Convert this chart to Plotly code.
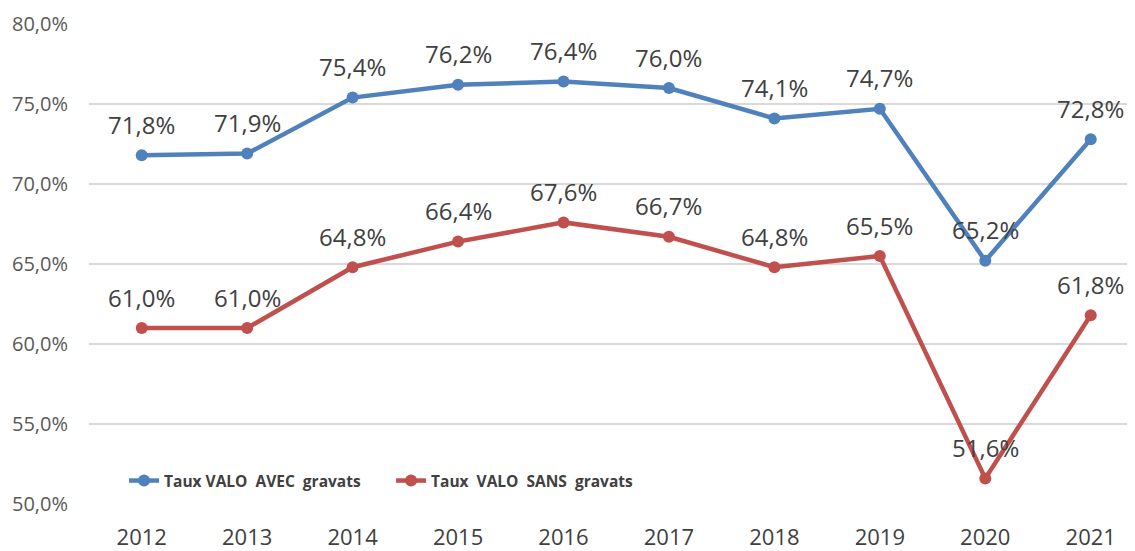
import plotly.graph_objects as go

years = ["2012", "2013", "2014", "2015", "2016", "2017", "2018", "2019", "2020", "2021"]
avec = [71.8, 71.9, 75.4, 76.2, 76.4, 76.0, 74.1, 74.7, 65.2, 72.8]
sans = [61.0, 61.0, 64.8, 66.4, 67.6, 66.7, 64.8, 65.5, 51.6, 61.8]
names = ["Taux VALO  AVEC  gravats", "Taux  VALO  SANS  gravats"]
colors = ["#4F81BD", "#C0504D"]

fig = go.Figure()
for name, vals, col in zip(names, [avec, sans], colors):
    fig.add_trace(go.Scatter(
        x=years, y=vals, name=name, mode="lines+markers",
        line=dict(color=col, width=4.5), marker=dict(color=col, size=12),
    ))
    for i, yv in enumerate(vals):
        fig.add_annotation(x=i, y=yv, text=f"{yv:.1f}%".replace(".", ","),
                           showarrow=False, yshift=31,
                           font=dict(family="Open Sans", size=24, color="#404040"))

fig.update_layout(
    width=1127, height=543,
    margin=dict(l=81, r=0, t=16, b=42),
    paper_bgcolor="white", plot_bgcolor="white",
    separators=", ",
    font=dict(family="Open Sans", color="#404040"),
    showlegend=True,
    legend=dict(orientation="h", x=0.0335, y=0.048, xanchor="left", yanchor="middle",
                font=dict(family="Open Sans", size=15.5, color="#404040", weight="bold"),
                bgcolor="rgba(0,0,0,0)", entrywidth=222, entrywidthmode="pixels"),
)
fig.update_xaxes(type="category", range=[-0.5, 9.42], showgrid=False, showline=False,
                 zeroline=False, tickfont=dict(size=22, color="#404040"), ticks="",
                 ticklabelstandoff=18)
fig.update_yaxes(range=[50, 80], dtick=5, tickformat=".1f", ticksuffix="%",
                 showgrid=True, gridcolor="#D9D9D9", gridwidth=1.5, zeroline=False,
                 showline=False, tickfont=dict(size=20, color="#595959"), ticks="",
                 ticklabelstandoff=20)
fig.write_html("out.html")
